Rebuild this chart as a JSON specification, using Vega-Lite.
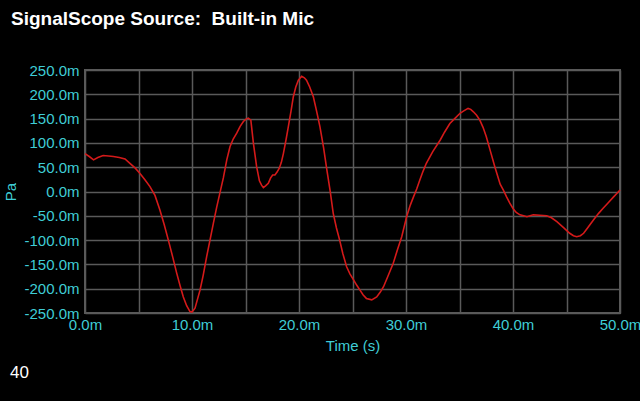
{
  "$schema": "https://vega.github.io/schema/vega-lite/v6.json",
  "width": 535,
  "height": 243,
  "autosize": {"type": "none"},
  "padding": {"left": 85, "top": 70, "right": 20, "bottom": 88},
  "background": "black",
  "title": {
    "text": "SignalScope Source:\u00a0 Built-in Mic",
    "anchor": "start",
    "frame": "group",
    "dx": -74,
    "offset": 19,
    "baseline": "alphabetic",
    "color": "white",
    "font": "Liberation Sans",
    "fontSize": 19,
    "fontWeight": "bold"
  },
  "config": {
    "view": {"stroke": "#5a5a5a", "strokeWidth": 2},
    "axis": {
      "domain": false,
      "ticks": false,
      "gridColor": "#5a5a5a",
      "gridWidth": 1.5,
      "gridOpacity": 1,
      "labelColor": "#3fcdd6",
      "titleColor": "#3fcdd6",
      "labelFont": "Liberation Sans",
      "titleFont": "Liberation Sans",
      "labelFontSize": 15,
      "titleFontSize": 15,
      "titleFontWeight": "normal",
      "labelOverlap": false
    }
  },
  "datasets": {
    "signal": [
      {"t": 0, "v": 78}, {"t": 0.4, "v": 72}, {"t": 0.8, "v": 65}, {"t": 1.2, "v": 70}, {"t": 1.7, "v": 74},
      {"t": 2.2, "v": 73}, {"t": 2.65, "v": 72}, {"t": 3.2, "v": 70}, {"t": 3.74, "v": 67}, {"t": 4.2, "v": 58},
      {"t": 4.7, "v": 48}, {"t": 5.14, "v": 37}, {"t": 5.6, "v": 24}, {"t": 6.07, "v": 10}, {"t": 6.54, "v": -8},
      {"t": 7.0, "v": -38}, {"t": 7.4, "v": -68}, {"t": 7.79, "v": -100}, {"t": 8.2, "v": -135}, {"t": 8.57, "v": -168},
      {"t": 8.9, "v": -195}, {"t": 9.19, "v": -217}, {"t": 9.5, "v": -235}, {"t": 9.81, "v": -247}, {"t": 10.0, "v": -248},
      {"t": 10.28, "v": -240}, {"t": 10.75, "v": -203}, {"t": 11.05, "v": -172}, {"t": 11.37, "v": -134}, {"t": 11.7, "v": -98},
      {"t": 12.0, "v": -65}, {"t": 12.3, "v": -33}, {"t": 12.6, "v": -4}, {"t": 12.93, "v": 28}, {"t": 13.25, "v": 65},
      {"t": 13.55, "v": 92}, {"t": 13.85, "v": 108}, {"t": 14.18, "v": 120}, {"t": 14.5, "v": 134}, {"t": 14.8, "v": 144},
      {"t": 15.05, "v": 149}, {"t": 15.26, "v": 151}, {"t": 15.5, "v": 147}, {"t": 15.74, "v": 99}, {"t": 16.04, "v": 51},
      {"t": 16.3, "v": 22}, {"t": 16.5, "v": 13}, {"t": 16.67, "v": 8}, {"t": 16.9, "v": 12}, {"t": 17.13, "v": 17},
      {"t": 17.35, "v": 28}, {"t": 17.54, "v": 34}, {"t": 17.75, "v": 34}, {"t": 17.95, "v": 40}, {"t": 18.16, "v": 48},
      {"t": 18.35, "v": 60}, {"t": 18.54, "v": 78}, {"t": 18.8, "v": 108}, {"t": 19.0, "v": 133}, {"t": 19.25, "v": 165},
      {"t": 19.47, "v": 195}, {"t": 19.7, "v": 215}, {"t": 19.94, "v": 229}, {"t": 20.25, "v": 237}, {"t": 20.5, "v": 234},
      {"t": 20.7, "v": 229}, {"t": 21.0, "v": 215}, {"t": 21.34, "v": 195}, {"t": 21.65, "v": 165}, {"t": 21.96, "v": 133},
      {"t": 22.3, "v": 90}, {"t": 22.6, "v": 45}, {"t": 22.9, "v": 3}, {"t": 23.2, "v": -45}, {"t": 23.5, "v": -75},
      {"t": 23.8, "v": -100}, {"t": 24.1, "v": -128}, {"t": 24.45, "v": -155}, {"t": 24.77, "v": -170}, {"t": 25.1, "v": -182},
      {"t": 25.4, "v": -193}, {"t": 25.7, "v": -203}, {"t": 26.0, "v": -213}, {"t": 26.3, "v": -220}, {"t": 26.8, "v": -223},
      {"t": 27.26, "v": -217}, {"t": 27.6, "v": -207}, {"t": 27.9, "v": -196}, {"t": 28.3, "v": -175}, {"t": 28.8, "v": -148},
      {"t": 29.2, "v": -120}, {"t": 29.6, "v": -93}, {"t": 30.06, "v": -52}, {"t": 30.4, "v": -28}, {"t": 30.7, "v": -11},
      {"t": 31.0, "v": 5}, {"t": 31.3, "v": 24}, {"t": 31.6, "v": 42}, {"t": 31.9, "v": 58}, {"t": 32.5, "v": 82},
      {"t": 33.2, "v": 106}, {"t": 33.6, "v": 122}, {"t": 34.1, "v": 140}, {"t": 34.6, "v": 151}, {"t": 35.05, "v": 161},
      {"t": 35.4, "v": 166}, {"t": 35.8, "v": 171}, {"t": 36.05, "v": 169}, {"t": 36.3, "v": 164}, {"t": 36.6, "v": 157},
      {"t": 36.9, "v": 147}, {"t": 37.2, "v": 132}, {"t": 37.5, "v": 113}, {"t": 37.9, "v": 82}, {"t": 38.3, "v": 51},
      {"t": 38.8, "v": 15}, {"t": 39.1, "v": 3}, {"t": 39.4, "v": -11}, {"t": 39.7, "v": -24}, {"t": 40.0, "v": -35},
      {"t": 40.3, "v": -43}, {"t": 40.65, "v": -48}, {"t": 41.0, "v": -50}, {"t": 41.3, "v": -52}, {"t": 41.6, "v": -50},
      {"t": 41.9, "v": -48}, {"t": 42.5, "v": -49}, {"t": 43.15, "v": -50}, {"t": 43.6, "v": -54}, {"t": 44.1, "v": -62},
      {"t": 44.7, "v": -74}, {"t": 45.3, "v": -86}, {"t": 45.65, "v": -91}, {"t": 45.95, "v": -93}, {"t": 46.3, "v": -91},
      {"t": 46.6, "v": -86}, {"t": 47.0, "v": -74}, {"t": 47.5, "v": -59}, {"t": 48.0, "v": -45}, {"t": 48.4, "v": -35},
      {"t": 48.9, "v": -23}, {"t": 49.4, "v": -11}, {"t": 49.7, "v": -4}, {"t": 50.0, "v": 3}
    ],
    "note": [{"label": "40", "t": -7.0, "v": -373}]
  },
  "encoding": {
    "x": {
      "field": "t", "type": "quantitative",
      "scale": {"domain": [0, 50], "nice": false},
      "axis": {
        "title": "Time (s)",
        "values": [0, 5, 10, 15, 20, 25, 30, 35, 40, 45, 50],
        "labelExpr": "datum.value % 10 === 0 ? format(datum.value, '.1f') + 'm' : ''",
        "labelFlush": false,
        "labelOverlap": false,
        "labelPadding": 4,
        "titlePadding": 6
      }
    },
    "y": {
      "field": "v", "type": "quantitative",
      "scale": {"domain": [-250, 250], "nice": false},
      "axis": {
        "title": "Pa",
        "values": [-250, -200, -150, -100, -50, 0, 50, 100, 150, 200, 250],
        "labelExpr": "(datum.value < 0 ? '-' : '') + format(abs(datum.value), '.1f') + 'm'",
        "labelOverlap": false,
        "labelFlush": false,
        "labelPadding": 6,
        "titlePadding": 5
      }
    }
  },
  "layer": [
    {
      "data": {"name": "signal"},
      "mark": {"type": "line", "color": "#d41a1a", "strokeWidth": 1.6, "interpolate": "linear"}
    },
    {
      "data": {"name": "note"},
      "mark": {"type": "text", "color": "white", "font": "Liberation Sans", "fontSize": 17, "align": "left", "baseline": "middle", "clip": false},
      "encoding": {
        "text": {"field": "label"}
      }
    }
  ]
}
